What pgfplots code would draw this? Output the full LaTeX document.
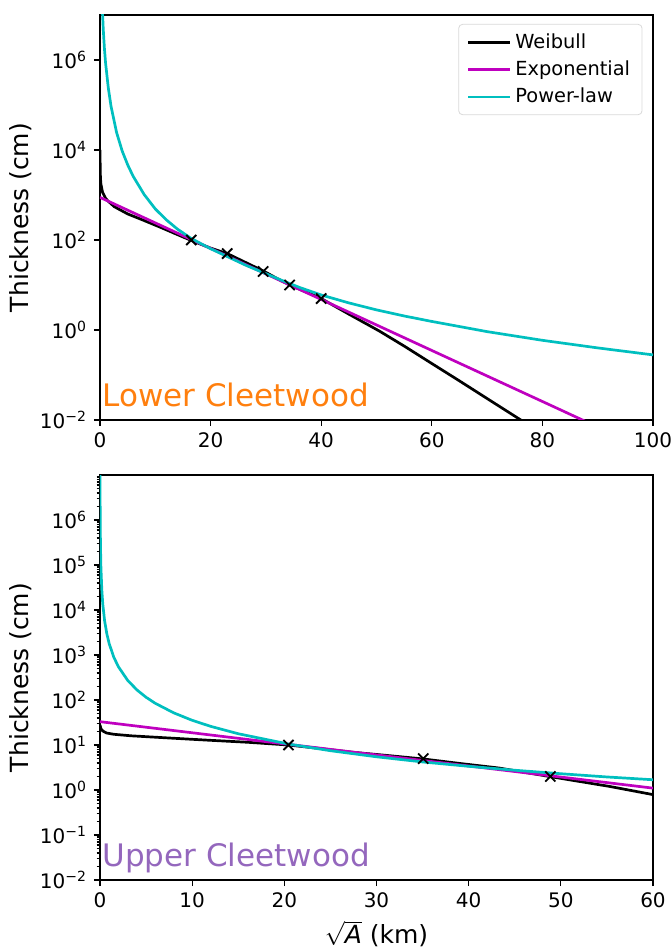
\documentclass[border=0pt]{standalone}
\usepackage{fontspec}
\setmainfont{DejaVu Sans}
\usepackage{pgfplots}
\pgfplotsset{compat=1.18}
\definecolor{mplm}{rgb}{0.75,0,0.75}
\definecolor{mplc}{rgb}{0,0.75,0.75}
\definecolor{mplorange}{HTML}{FF7F0E}
\definecolor{mplpurple}{HTML}{9467BD}
\newcommand{\tp}[1]{10\textsuperscript{#1}}
\pgfplotsset{
  mystyle/.style={
    scale only axis, width=276.5pt, height=202.5pt,
    xmin=0, ymin=1e-2, ymax=1e7,
    axis line style={line width=0.65pt},
    tick align=outside, tick pos=left,
    major tick length=3pt, minor tick length=1.7pt,
    every tick/.style={black, line width=0.6pt},
    tick label style={font=\fontsize{10}{12}\selectfont},
    /pgf/number format/assume math mode=true,
    label style={font=\fontsize{12.5}{14}\selectfont},
    ylabel={Thickness (cm)},
    ylabel style={at={(axis description cs:-0.143,0.5)}, anchor=center},
    every axis plot/.append style={line width=1.35pt, line join=round},
  }
}
\begin{document}
\begin{tikzpicture}
\useasboundingbox (-50pt,-34.5pt) rectangle (286pt,440pt);
% ---------------- Top panel ----------------
\begin{semilogyaxis}[mystyle, at={(0,230pt)}, anchor=south west,
  xmax=100, xtick={0,20,40,60,80,100},
  ytick={1e-2,1,1e2,1e4,1e6},
  yticklabels={\tp{−2},\tp{0},\tp{2},\tp{4},\tp{6}},
  minor y tick style={draw=none},
  legend style={at={(rel axis cs:0.981,0.978)}, anchor=north east,
    draw=black!15, rounded corners=2pt, fill=white,
    font=\fontsize{9.7}{11}\selectfont, row sep=0.8pt,
    inner xsep=4pt, inner ysep=2.5pt, cells={anchor=west}},
  legend image code/.code={\draw[#1] (0pt,0pt) -- (21pt,0pt);},
]
\addplot[black] coordinates {
(0,10000) (0.05,3000) (0.15,1800) (0.47,1140) (1.0,850) (1.37,750)
(2.58,550) (5,380) (8,270) (11,190) (13.5,140) (16.3,100) (20,66)
(23,50) (26.5,31) (29.7,20) (32,14) (34.3,10) (37,7.2) (40,5)
(45,2.25) (50.5,0.95) (55,0.44) (60,0.18) (65,0.074) (70,0.030)
(76.1,0.010) (80,0.0049)};
\addlegendentry{Weibull}
\addplot[mplm] coordinates {
(0,885) (20,65) (40,4.78) (60,0.351) (80,0.0258) (90,0.00698)};
\addlegendentry{Exponential}
\addplot[mplc] coordinates {
(0.45,1.1e7) (0.5,8.5e6) (0.6,4.6e6) (0.8,1.8e6) (1.0,8.8e5) (1.5,2.4e5)
(2,9.3e4) (3,2.45e4) (4,9600) (5,4700) (6,2600) (8,1020) (10,490)
(12,280) (14,175) (16.5,108) (20,64) (23,43) (26.5,27) (29.7,18.5)
(33,12.5) (36,8.9) (40,6.0) (45,4.0) (50,2.8) (55,2.05) (60,1.55)
(70,0.92) (80,0.59) (90,0.40) (100,0.28)};
\addlegendentry{Power-law}
\addplot[only marks, mark=x, mark size=3.6pt, mark options={line width=0.9pt, black}, forget plot]
coordinates {(16.5,100) (23,50) (29.5,20) (34.3,10) (40,5)};
\node[anchor=base west, inner sep=0pt, text=mplorange, font=\fontsize{15.5}{17}\selectfont]
  at (rel axis cs:0.004,0) [yshift=6.5pt] {Lower Cleetwood};
\end{semilogyaxis}
% ---------------- Bottom panel ----------------
\begin{semilogyaxis}[mystyle, at={(0,0)}, anchor=south west,
  xmax=60, xtick={0,10,20,30,40,50,60},
  xlabel={$\sqrt{\mbox{\itshape A}}$ (km)},
  xlabel style={at={(axis description cs:0.5,-0.133)}, anchor=center},
  ytick={1e-2,1e-1,1,1e1,1e2,1e3,1e4,1e5,1e6},
  yticklabels={\tp{−2},\tp{−1},\tp{0},\tp{1},\tp{2},\tp{3},\tp{4},\tp{5},\tp{6}},
  minor ytick={2e-2,3e-2,4e-2,5e-2,6e-2,7e-2,8e-2,9e-2,
    2e-1,3e-1,4e-1,5e-1,6e-1,7e-1,8e-1,9e-1,
    2,3,4,5,6,7,8,9,
    20,30,40,50,60,70,80,90,
    200,300,400,500,600,700,800,900,
    2e3,3e3,4e3,5e3,6e3,7e3,8e3,9e3,
    2e4,3e4,4e4,5e4,6e4,7e4,8e4,9e4,
    2e5,3e5,4e5,5e5,6e5,7e5,8e5,9e5,
    2e6,3e6,4e6,5e6,6e6,7e6,8e6,9e6},
]
\addplot[black] coordinates {
(0,28) (0.1,23) (0.3,20.5) (0.7,18.5) (1.5,17.3) (3.4,16) (7,14.5)
(11.4,12.9) (16,11.5) (20.45,10) (24,8.3) (27.4,6.9) (31,5.9)
(35.07,4.9) (39,3.9) (43.3,3.08) (48.86,1.98) (55.3,1.2) (60,0.79)};
\addplot[mplm] coordinates {
(0,33) (20,10.6) (40,3.42) (60,1.1)};
\addplot[mplc] coordinates {
(0.006,1.06e7) (0.01,4.45e6) (0.02,1.37e6) (0.05,2.89e5) (0.1,8.9e4)
(0.2,2.74e4) (0.3,1.37e4) (0.5,5770) (0.75,2900) (1,1780) (1.5,891)
(2,547) (3,274) (4,168) (5,115) (6,84.4) (8,51.8) (10,35.4) (12,26.0)
(15,17.8) (20.45,10.5) (25,7.47) (30,5.47) (35,4.2) (40,3.36)
(45,2.75) (50,2.30) (55,1.95) (60,1.69)};
\addplot[only marks, mark=x, mark size=3.6pt, mark options={line width=0.9pt, black}]
coordinates {(20.45,10) (35.07,5) (48.86,2)};
\node[anchor=base west, inner sep=0pt, text=mplpurple, font=\fontsize{15.5}{17}\selectfont]
  at (rel axis cs:0.004,0) [yshift=7pt] {Upper Cleetwood};
\end{semilogyaxis}
\end{tikzpicture}
\end{document}
